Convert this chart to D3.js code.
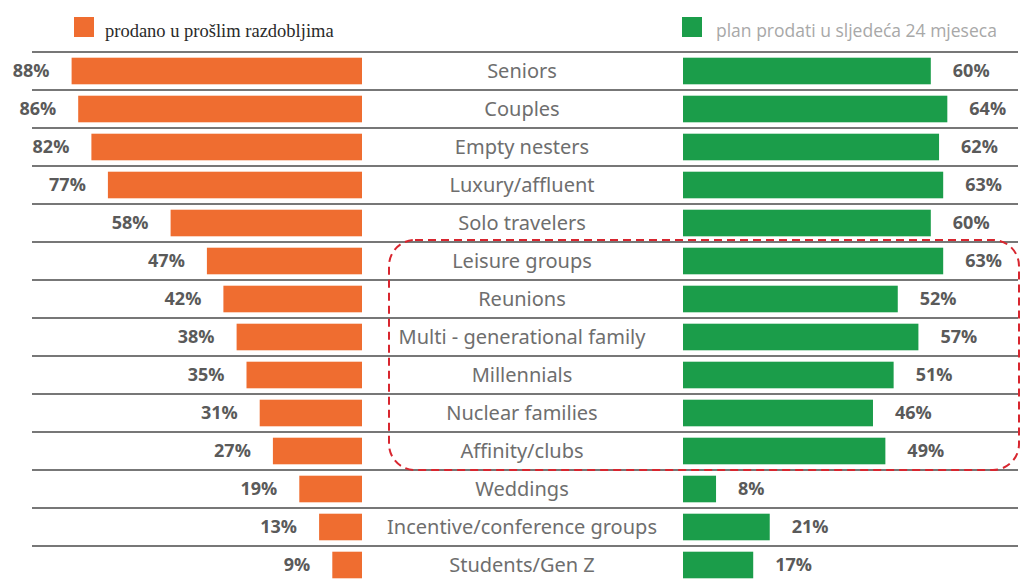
<!DOCTYPE html>
<html>
<head>
<meta charset="utf-8">
<script src="https://cdn.jsdelivr.net/npm/d3@7"></script>
<style>
  body { margin: 0; background: #fff; }
  svg { display: block; }
</style>
</head>
<body>
<div id="chart"></div>
<script>
var categories = ['Seniors', 'Couples', 'Empty nesters', 'Luxury/affluent', 'Solo travelers',
  'Leisure groups', 'Reunions', 'Multi - generational family', 'Millennials', 'Nuclear families',
  'Affinity/clubs', 'Weddings', 'Incentive/conference groups', 'Students/Gen Z'];
var pastValues = [88, 86, 82, 77, 58, 47, 42, 38, 35, 31, 27, 19, 13, 9];
var planValues = [60, 64, 62, 63, 60, 63, 52, 57, 51, 46, 49, 8, 21, 17];
var legendLabels = ['prodano u prošlim razdobljima', 'plan prodati u sljedeća 24 mjeseca'];
var highlighted = ['Leisure groups', 'Affinity/clubs'];

var W = 1020, H = 580;
var svg = d3.select('#chart').append('svg')
  .attr('width', W)
  .attr('height', H);

var rows = categories.map(function(c, i) {
  return { name: c, past: pastValues[i], plan: planValues[i] };
});

// row bands
var y = d3.scaleBand().domain(categories).range([52, 52 + 38 * categories.length]).paddingInner(0.3).paddingOuter(0.15);
var rowY = d3.scaleBand().domain(categories).range([52, 52 + 38 * categories.length]);

// left bars grow to the left from x=362, right bars grow right from x=683
var xLeft = d3.scaleLinear().domain([0, 100]).range([362, 32]);
var xRight = d3.scaleLinear().domain([0, 100]).range([683, 1096]);

// separator lines
svg.append('g').selectAll('line')
  .data(categories)
  .join('line')
  .attr('x1', 32).attr('x2', 1018)
  .attr('y1', function(d) { return rowY(d); })
  .attr('y2', function(d) { return rowY(d); })
  .attr('stroke', '#4a4a4a')
  .attr('stroke-width', 1.5);

// past bars
svg.append('g').selectAll('rect')
  .data(rows)
  .join('rect')
  .attr('x', function(d) { return xLeft(d.past); })
  .attr('y', function(d) { return y(d.name); })
  .attr('width', function(d) { return xLeft(0) - xLeft(d.past); })
  .attr('height', y.bandwidth())
  .attr('fill', '#ef6d30');

// plan bars
svg.append('g').selectAll('rect')
  .data(rows)
  .join('rect')
  .attr('x', xRight(0))
  .attr('y', function(d) { return y(d.name); })
  .attr('width', function(d) { return xRight(d.plan) - xRight(0); })
  .attr('height', y.bandwidth())
  .attr('fill', '#1b9d4a');

// value labels
svg.append('g').selectAll('text')
  .data(rows)
  .join('text')
  .attr('x', function(d) { return xLeft(d.past) - 22; })
  .attr('y', function(d) { return rowY(d.name) + rowY.bandwidth() / 2; })
  .attr('dy', '0.36em')
  .attr('text-anchor', 'end')
  .style('font', 'bold 18px "Open Sans", sans-serif')
  .attr('fill', '#5a5a5a')
  .text(function(d) { return d.past + '%'; });

svg.append('g').selectAll('text')
  .data(rows)
  .join('text')
  .attr('x', function(d) { return xRight(d.plan) + 22; })
  .attr('y', function(d) { return rowY(d.name) + rowY.bandwidth() / 2; })
  .attr('dy', '0.36em')
  .attr('text-anchor', 'start')
  .style('font', 'bold 18px "Open Sans", sans-serif')
  .attr('fill', '#5a5a5a')
  .text(function(d) { return d.plan + '%'; });

// category names in the middle
svg.append('g').selectAll('text')
  .data(rows)
  .join('text')
  .attr('x', 522)
  .attr('y', function(d) { return rowY(d.name) + rowY.bandwidth() / 2; })
  .attr('dy', '0.36em')
  .attr('text-anchor', 'middle')
  .style('font', '20px "Noto Sans", sans-serif')
  .attr('fill', '#6e6e6e')
  .text(function(d) { return d.name; });

// dashed highlight box
var boxTop = rowY(highlighted[0]) - 2;
var boxBottom = rowY(highlighted[1]) + rowY.bandwidth();
svg.append('rect')
  .attr('x', 389)
  .attr('y', boxTop)
  .attr('width', 630)
  .attr('height', boxBottom - boxTop)
  .attr('rx', 26)
  .attr('fill', 'none')
  .attr('stroke', '#d8262f')
  .attr('stroke-width', 2)
  .attr('stroke-dasharray', '8,5');

// legend
var legend = svg.append('g');
legend.append('rect').attr('x', 74).attr('y', 17).attr('width', 20).attr('height', 20).attr('fill', '#ef6d30');
legend.append('text')
  .attr('x', 105).attr('y', 37)
  .style('font', '18.5px "Liberation Serif", serif')
  .attr('fill', '#2a2a2a')
  .text(legendLabels[0]);
legend.append('rect').attr('x', 682).attr('y', 17).attr('width', 20).attr('height', 20).attr('fill', '#1b9d4a');
legend.append('text')
  .attr('x', 716).attr('y', 37)
  .style('font', '17.5px "Open Sans", sans-serif')
  .attr('fill', '#a8a8a8')
  .text(legendLabels[1]);
</script>
</body>
</html>
